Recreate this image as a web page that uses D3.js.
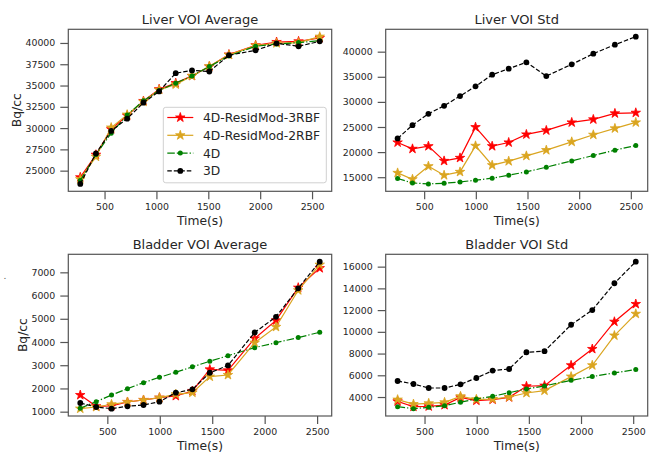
<!DOCTYPE html>
<html>
<head>
<meta charset="utf-8">
<script src="https://cdn.jsdelivr.net/npm/d3@7"></script>
<style>
body { margin: 0; background: #fff; }
svg { font-family: "DejaVu Sans", sans-serif; }
</style>
</head>
<body>
<div id="canvas"></div>
<script>
// ----------------------------------------------------------
// DATA -----------------------------------------------------
// ----------------------------------------------------------
var series_names = ["4D-ResidMod-3RBF", "4D-ResidMod-2RBF", "4D", "3D"];
var x_ticks = [500, 1000, 1500, 2000, 2500];

// liver average
var liver_avg_time = [266, 417, 564, 718, 875, 1026, 1186, 1343, 1510, 1699, 1956, 2158, 2370, 2574];
var liver_avg_3rbf = [24220, 26870, 29870, 31460, 33180, 34570, 35280, 36130, 37230, 38640, 39730, 40110, 40190, 40580];
var liver_avg_2rbf = [24000, 26640, 30060, 31580, 33100, 34490, 35120, 36130, 37270, 38600, 39690, 39960, 40040, 40740];
var liver_avg_4d   = [23830, 26900, 29400, 31540, 33210, 34420, 35280, 36130, 37230, 38480, 39610, 39880, 40040, 40270];
var liver_avg_3d   = [23440, 27020, 29670, 31110, 32980, 34310, 36450, 36770, 36650, 38560, 39140, 39960, 39610, 40190];
var liver_avg_ticks = [25000, 27500, 30000, 32500, 35000, 37500, 40000];

// liver std
var liver_std_time = [243, 387, 541, 693, 847, 997, 1158, 1318, 1489, 1682, 1928, 2137, 2346, 2548];
var liver_std_3rbf = [21920, 20650, 21180, 18250, 18850, 24970, 21180, 21920, 23520, 24320, 25910, 26510, 27710, 27830];
var liver_std_2rbf = [15860, 14600, 17190, 15400, 16060, 21250, 17390, 18190, 19250, 20390, 22050, 23450, 24720, 25910];
var liver_std_4d   = [14740, 13860, 13660, 13800, 14060, 14400, 14800, 15400, 16060, 17000, 18250, 19330, 20390, 21320];
var liver_std_3d   = [22720, 25370, 27630, 29220, 31160, 33090, 35410, 36610, 37880, 35150, 37480, 39600, 41390, 42990];
var liver_std_ticks = [15000, 20000, 25000, 30000, 35000, 40000];

// bladder average
var bladder_time = [242, 394, 540, 692, 845, 997, 1153, 1311, 1477, 1650, 1905, 2108, 2320, 2525];
var bladder_avg_3rbf = [1716, 1232, 1245, 1417, 1503, 1603, 1675, 1890, 2820, 2777, 4152, 4932, 6340, 7180];
var bladder_avg_2rbf = [1130, 1202, 1318, 1417, 1503, 1603, 1748, 1818, 2508, 2580, 3970, 4650, 6227, 7330];
var bladder_avg_4d   = [1145, 1431, 1718, 1990, 2250, 2480, 2700, 2930, 3170, 3410, 3757, 3970, 4190, 4420];
var bladder_avg_3d   = [1374, 1202, 1130, 1232, 1288, 1430, 1816, 1962, 2675, 2990, 4410, 5085, 6313, 7460];
var bladder_avg_ticks = [1000, 2000, 3000, 4000, 5000, 6000, 7000];

// bladder std
var bladder_std_3rbf = [3600, 3110, 3140, 3260, 3970, 3670, 3760, 3970, 4990, 5050, 6920, 8420, 10930, 12560];
var bladder_std_2rbf = [3760, 3350, 3420, 3510, 4065, 3790, 3815, 4000, 4370, 4590, 5880, 6920, 9660, 11660];
var bladder_std_4d   = [3110, 2930, 3050, 3200, 3520, 3815, 4065, 4400, 4740, 5020, 5540, 5880, 6220, 6530];
var bladder_std_3d   = [5477, 5200, 4830, 4830, 5170, 5750, 6430, 6580, 8120, 8220, 10650, 12000, 14470, 16460];
var bladder_std_ticks = [4000, 6000, 8000, 10000, 12000, 14000, 16000];


// ----------------------------------------------------------
// LAYOUT ---------------------------------------------------
// ----------------------------------------------------------
var layout =
{
width: 649,
height: 452,
col_x: [[68.3, 331.7], [385.7, 647.7]],
row_y: [[29.3, 191.3], [254.3, 416]],
tick_size: 8,
font_tick: 9.4,
font_title: 13,
font_label: 12.3,
font_legend: 12.3,
color_frame: "#555555",
color_text: "#262626"
};

// line styles, same order as series_names
var styles = [
{color: "#ff0000", dash: null, marker: "star", size: 28},
{color: "#daa520", dash: null, marker: "star", size: 28},
{color: "#008000", dash: "7.5,2,1.3,2", marker: "circle", size: 2.5},
{color: "#000000", dash: "4.5,2", marker: "circle", size: 2.9}
];

var panels = [
{title: "Liver VOI Average", col: 0, row: 0, time: liver_avg_time,
 series: [liver_avg_3rbf, liver_avg_2rbf, liver_avg_4d, liver_avg_3d],
 y_ticks: liver_avg_ticks, y_label: true, y_label_x: 20.7, legend: true},
{title: "Liver VOI Std", col: 1, row: 0, time: liver_std_time,
 series: [liver_std_3rbf, liver_std_2rbf, liver_std_4d, liver_std_3d],
 y_ticks: liver_std_ticks, y_label: false},
{title: "Bladder VOI Average", col: 0, row: 1, time: bladder_time,
 series: [bladder_avg_3rbf, bladder_avg_2rbf, bladder_avg_4d, bladder_avg_3d],
 y_ticks: bladder_avg_ticks, y_label: true, y_label_x: 27.3},
{title: "Bladder VOI Std", col: 1, row: 1, time: bladder_time,
 series: [bladder_std_3rbf, bladder_std_2rbf, bladder_std_4d, bladder_std_3d],
 y_ticks: bladder_std_ticks, y_label: false}
];


// ----------------------------------------------------------
// STRUCTURE ------------------------------------------------
// ----------------------------------------------------------
var svg = d3.select("#canvas").append("svg")
.attr("width", layout.width)
.attr("height", layout.height)
.style("background-color", "#fff");

// stray dot left of bladder panel
svg.append("text")
.attr("x", 3.5)
.attr("y", 279)
.style("font-size", "9px")
.style("fill", "#555")
.text(".");

var star = d3.symbol().type(d3.symbolStar);
var fmt = d3.format("d");

// draw one marker at given position
function draw_marker(g, st, cx, cy) {
if (st.marker == "star") {
g.append("path")
.attr("d", star.size(st.size)())
.attr("transform", "translate(" + cx + "," + cy + ")")
.style("fill", st.color)
.style("stroke", st.color)
.style("stroke-width", 0.8);
} else {
g.append("circle")
.attr("cx", cx)
.attr("cy", cy)
.attr("r", st.size)
.style("fill", st.color);
}
}

// pad domain like matplotlib (5%)
function padded(vals) {
var ext = d3.extent(vals);
var pad = (ext[1] - ext[0]) * 0.05;
return [ext[0] - pad, ext[1] + pad];
}


// ----------------------------------------------------------
// GFX ------------------------------------------------------
// ----------------------------------------------------------
panels.forEach(function(p) {
var xr = layout.col_x[p.col];
var yr = layout.row_y[p.row];
var g = svg.append("g").attr("class", "panel");

var x = d3.scaleLinear().domain(padded(p.time)).range(xr);
var y = d3.scaleLinear().domain(padded(d3.merge(p.series))).range([yr[1], yr[0]]);

// x axis
var gx = g.append("g")
.attr("transform", "translate(0," + yr[1] + ")")
.call(d3.axisBottom(x).tickValues(x_ticks).tickSize(layout.tick_size).tickPadding(4.5).tickFormat(fmt));
// y axis
var gy = g.append("g")
.attr("transform", "translate(" + xr[0] + ",0)")
.call(d3.axisLeft(y).tickValues(p.y_ticks).tickSize(layout.tick_size).tickPadding(5).tickFormat(fmt));

[gx, gy].forEach(function(a) {
a.select(".domain").remove();
a.selectAll("line").style("stroke", layout.color_frame).style("stroke-width", 1.2);
a.selectAll("text")
.style("font-size", layout.font_tick + "px")
.style("font-family", "DejaVu Sans")
.style("fill", layout.color_text);
});

// lines + markers
var lines_g = g.append("g");
p.series.forEach(function(vals, i) {
var st = styles[i];
var pts = vals.map(function(v, k) { return [x(p.time[k]), y(v)]; });
lines_g.append("path")
.attr("d", d3.line()(pts))
.style("fill", "none")
.style("stroke", st.color)
.style("stroke-width", 1.2)
.style("stroke-dasharray", st.dash);
pts.forEach(function(pt) { draw_marker(lines_g, st, pt[0], pt[1]); });
});

// frame
g.append("rect")
.attr("x", xr[0])
.attr("y", yr[0])
.attr("width", xr[1] - xr[0])
.attr("height", yr[1] - yr[0])
.style("fill", "none")
.style("stroke", layout.color_frame)
.style("stroke-width", 1.2);

// title
g.append("text")
.attr("x", (xr[0] + xr[1]) / 2)
.attr("y", yr[0] - 5)
.attr("text-anchor", "middle")
.style("font-size", layout.font_title + "px")
.style("fill", layout.color_text)
.text(p.title);

// x label
g.append("text")
.attr("x", (xr[0] + xr[1]) / 2)
.attr("y", yr[1] + 34)
.attr("text-anchor", "middle")
.style("font-size", layout.font_label + "px")
.style("fill", layout.color_text)
.text("Time(s)");

// y label
if (p.y_label) {
g.append("text")
.attr("transform", "translate(" + p.y_label_x + "," + (yr[0] + yr[1]) / 2 + ") rotate(-90)")
.attr("text-anchor", "middle")
.style("font-size", layout.font_label + "px")
.style("fill", layout.color_text)
.text("Bq/cc");
}

// legend
if (p.legend) {
var lg = g.append("g").attr("class", "legend");
lg.append("rect")
.attr("x", 163.3)
.attr("y", 107.3)
.attr("width", 163)
.attr("height", 75.5)
.attr("rx", 2.5)
.style("fill", "rgba(255,255,255,0.85)")
.style("stroke", "#d0d0d0")
.style("stroke-width", 1);
series_names.forEach(function(name, i) {
var st = styles[i];
var ly = 117.5 + i * 17.8;
lg.append("line")
.attr("x1", 167.3).attr("x2", 193.3)
.attr("y1", ly).attr("y2", ly)
.style("stroke", st.color)
.style("stroke-width", 1.2)
.style("stroke-dasharray", st.dash);
draw_marker(lg, st, 180.3, ly);
lg.append("text")
.attr("x", 203)
.attr("y", ly + 4.4)
.style("font-size", layout.font_legend + "px")
.style("fill", layout.color_text)
.text(name);
});
}
});
</script>
</body>
</html>
